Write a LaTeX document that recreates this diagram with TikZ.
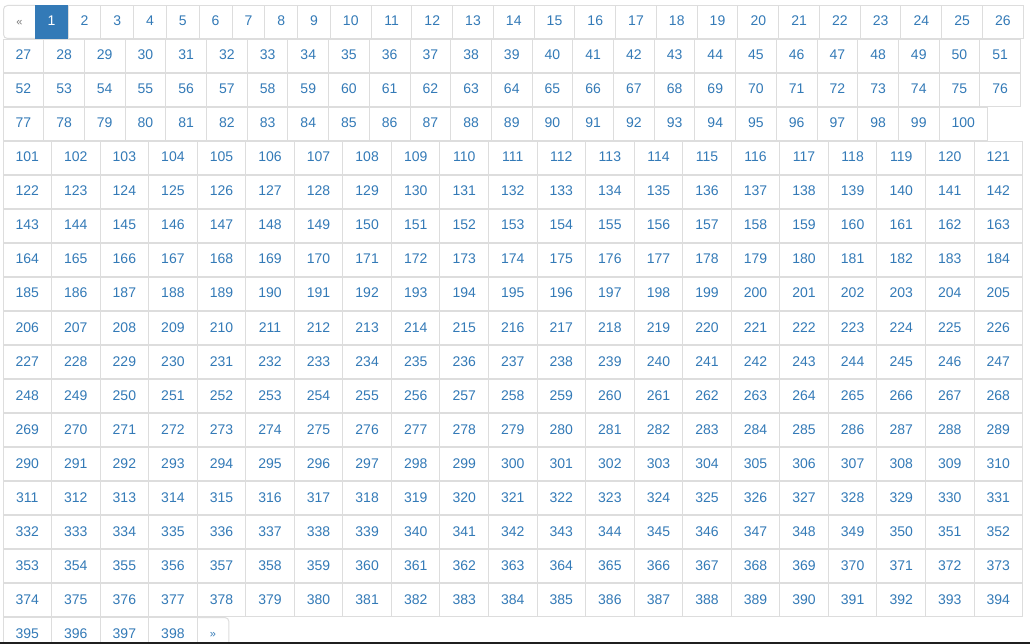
\documentclass[tikz,border=0pt]{standalone}
\usepackage{fontspec}
\setmainfont{Liberation Sans}
\definecolor{pblue}{HTML}{337AB7}
\definecolor{bordgray}{HTML}{DDDDDD}
\definecolor{dgray}{HTML}{777777}
\begin{document}
\begin{tikzpicture}[x=1pt,y=-1pt,
  cell/.style={draw=bordgray,line width=1pt,minimum height=33pt,inner sep=0pt,outer sep=0pt,
    anchor=north west,text=pblue,font=\fontsize{14}{16}\selectfont,text height=10pt,text depth=2pt},
  one/.style={cell,minimum width=32.8pt},
  two/.style={cell,minimum width=40.7pt},
  three/.style={cell,minimum width=48.55pt},
  arrowcell/.style={cell,draw=none,minimum width=31.7pt,font=\fontsize{11}{13}\selectfont,text height=8pt,text depth=1pt},
  activecell/.style={one,fill=pblue,draw=pblue,text=white},
  bord/.style={draw=bordgray,line width=1pt}]
\clip (0,0) rectangle (1030,644);
\fill[white] (0,0) rectangle (1030,644);
% row 1
\node[arrowcell,text=dgray] (prev) at (3.5,5.5) {«};
\draw[bord,rounded corners=4pt] (prev.north east) -- (prev.north west) -- (prev.south west) -- (prev.south east);
\node[activecell] (p1) at (35.2,5.5) {1};
\foreach \n [evaluate=\n as \x using {35.2+(\n-1)*32.8}] in {2,...,9}
  \node[one] (p\n) at (\x,5.5) {\n};
\foreach \n [evaluate=\n as \x using {330.4+(\n-10)*40.75}] in {10,...,26}
  \node[two,minimum width=40.75pt] (p\n) at (\x,5.5) {\n};
% rows 2-3
\foreach \n [evaluate=\n as \x using {3+(\n-27)*40.7}] in {27,...,51}
  \node[two] (p\n) at (\x,39.5) {\n};
\foreach \n [evaluate=\n as \x using {3+(\n-52)*40.7}] in {52,...,76}
  \node[two] (p\n) at (\x,73.5) {\n};
% row 4
\foreach \n [evaluate=\n as \x using {3+(\n-77)*40.7}] in {77,...,99}
  \node[two] (p\n) at (\x,107.5) {\n};
\node[three,minimum width=48.2pt] (p100) at (939.1,107.5) {100};
% rows 5-18
\foreach \r in {5,...,18}{
  \foreach \k in {0,...,20}{
    \pgfmathtruncatemacro{\n}{101+21*(\r-5)+\k}
    \pgfmathsetmacro{\x}{3+\k*48.55}
    \pgfmathsetmacro{\y}{5.5+34*(\r-1)}
    \node[three] (p\n) at (\x,\y) {\n};
  }
}
% row 19
\foreach \n [evaluate=\n as \x using {3+(\n-395)*48.55}] in {395,...,398}
  \node[three] (p\n) at (\x,617.5) {\n};
\node[arrowcell] (next) at (197.2,617.5) {»};
\draw[bord,rounded corners=4pt] (next.north west) -- (next.north east) -- (next.south east) -- (next.south west);
% bottom dark edge
\fill[black!88] (0,642) rectangle (1030,644);
\end{tikzpicture}
\end{document}
